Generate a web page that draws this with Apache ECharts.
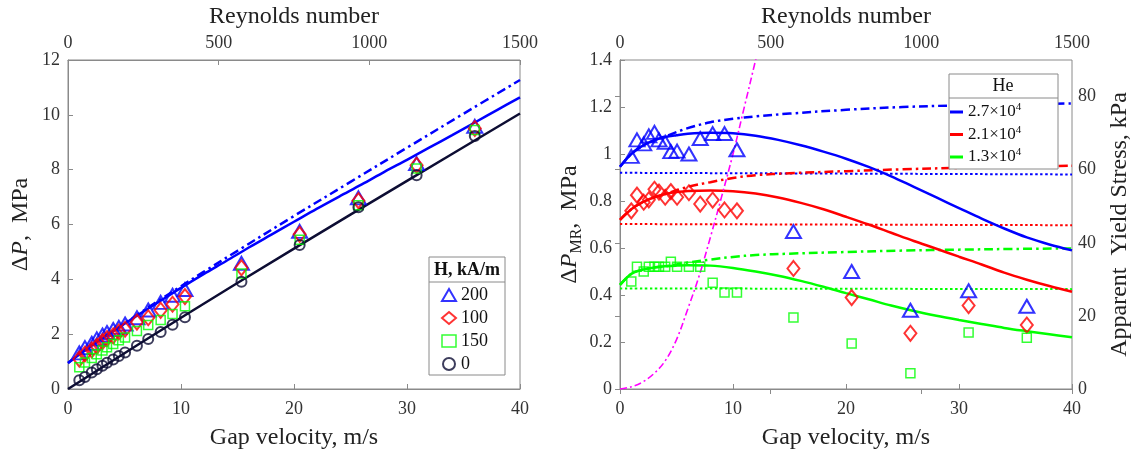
<!DOCTYPE html>
<html>
<head>
<meta charset="utf-8">
<script src="https://cdn.jsdelivr.net/npm/echarts@6.0.0/dist/echarts.min.js"></script>
<style>
  html, body { margin: 0; padding: 0; background: #fff; }
  #chart { width: 1143px; height: 455px; }
</style>
</head>
<body>
<div id="chart"></div>
<script>
// Measured gap velocities (m/s), shared by every data set
const gapVelocity = [1.0, 1.5, 2.1, 2.55, 3.05, 3.45, 4.0, 4.5, 5.05, 6.1, 7.1, 8.2, 9.25, 10.35, 15.35, 20.5, 25.7, 30.85, 36.0];

// Total pressure drop ΔP (MPa) for each field strength H (kA/m)
const dpH200 = [1.32, 1.51, 1.67, 1.83, 1.97, 2.06, 2.17, 2.25, 2.37, 2.6, 2.88, 3.16, 3.42, 3.63, 4.58, 5.75, 6.97, 8.22, 9.58];
const dpH100 = [1.09, 1.275, 1.425, 1.555, 1.73, 1.84, 1.94, 2.08, 2.18, 2.44, 2.6, 2.87, 3.09, 3.37, 4.42, 5.64, 6.87, 8.16, 9.5];
const dpH150 = [0.79, 0.97, 1.13, 1.27, 1.4, 1.52, 1.64, 1.78, 1.88, 2.12, 2.33, 2.52, 2.74, 3.02, 4.21, 5.44, 6.7, 8.04, 9.45];
const dpH0   = [0.32, 0.44, 0.6, 0.72, 0.85, 0.96, 1.08, 1.2, 1.33, 1.58, 1.82, 2.08, 2.34, 2.62, 3.91, 5.25, 6.63, 7.8, 9.23];

// Field-induced part ΔP_MR (MPa)
const mrH200 = [0.99, 1.06, 1.043, 1.077, 1.092, 1.06, 1.05, 1.01, 1.012, 1.0, 1.066, 1.087, 1.087, 1.018, 0.67, 0.5, 0.335, 0.418, 0.352];
const mrH100 = [0.758, 0.825, 0.795, 0.805, 0.85, 0.838, 0.816, 0.84, 0.816, 0.835, 0.787, 0.804, 0.762, 0.758, 0.513, 0.389, 0.237, 0.355, 0.272];
const mrH150 = [0.457, 0.52, 0.5, 0.52, 0.52, 0.52, 0.52, 0.542, 0.52, 0.52, 0.52, 0.452, 0.411, 0.411, 0.304, 0.194, 0.067, 0.24, 0.218];

// Model curves, left panel (ΔP, MPa)
const baseX = [0, 10, 20, 30, 40];
const baseY = [0, 2.6, 5.12, 7.59, 10.05];
const curveX = [0, 1, 2, 3, 4, 5, 6, 8, 10, 12, 14, 16, 18, 20, 22, 24, 26, 28, 30, 32, 34, 36, 38, 40];
const dpModelSolid = [0.95, 1.26, 1.555, 1.84, 2.11, 2.38, 2.65, 3.17, 3.69, 4.19, 4.67, 5.16, 5.63, 6.1, 6.57, 7.02, 7.46, 7.92, 8.36, 8.81, 9.26, 9.72, 10.18, 10.64];
const dashX = [0, 1, 2, 3, 4, 6, 8, 10, 12, 15, 20, 25, 30, 35, 40];
const dpModelDash = [0.95, 1.26, 1.555, 1.84, 2.115, 2.67, 3.215, 3.75, 4.27, 5.04, 6.31, 7.555, 8.8, 10.04, 11.27];

// Model curves, right panel (ΔP_MR, MPa), one per Hedström number
const mrSolidHe27 = [0.946, 1.0, 1.035, 1.058, 1.072, 1.08, 1.086, 1.09, 1.088, 1.078, 1.06, 1.037, 1.01, 0.98, 0.945, 0.905, 0.86, 0.815, 0.77, 0.725, 0.683, 0.645, 0.615, 0.59];
const mrSolidHe21 = [0.72, 0.765, 0.795, 0.815, 0.83, 0.838, 0.843, 0.845, 0.842, 0.832, 0.815, 0.792, 0.765, 0.733, 0.7, 0.665, 0.63, 0.597, 0.563, 0.53, 0.495, 0.465, 0.438, 0.414];
const mrSolidHe13 = [0.443, 0.49, 0.508, 0.517, 0.522, 0.525, 0.527, 0.525, 0.515, 0.5, 0.482, 0.46, 0.435, 0.408, 0.382, 0.355, 0.332, 0.312, 0.294, 0.277, 0.26, 0.246, 0.233, 0.22];
const mrDashHe27 = [0.946, 1.0, 1.035, 1.058, 1.075, 1.11, 1.135, 1.15, 1.16, 1.172, 1.188, 1.2, 1.207, 1.212, 1.215];
const mrDashHe21 = [0.72, 0.765, 0.795, 0.815, 0.83, 0.86, 0.88, 0.898, 0.91, 0.918, 0.927, 0.935, 0.941, 0.946, 0.95];
const mrDashHe13 = [0.443, 0.49, 0.508, 0.517, 0.522, 0.538, 0.551, 0.562, 0.57, 0.576, 0.583, 0.589, 0.593, 0.596, 0.598];
const levelX = [0, 40];
const mrLevelHe27 = [0.92, 0.913];
const mrLevelHe21 = [0.702, 0.697];
const mrLevelHe13 = [0.428, 0.425];

// Apparent yield stress (kPa) against gap velocity
const yieldX = [0, 1, 2, 3, 4, 5, 6, 7, 8, 9, 10, 11, 12, 12.6];
const yieldStress = [0, 0.6, 1.9, 4.2, 7.7, 13.5, 21.9, 30.9, 41.5, 52.7, 64.3, 77.1, 90, 98];

// Axis ticks
const velocityTicks = { min: 0, max: 40, interval: 10 };
const reynoldsTicks = { min: 0, max: 1500, interval: 500 };
const dpTicks = { min: 0, max: 12, interval: 2 };
const mrTicks = { min: 0, max: 1.4, interval: 0.2 };
const yieldTicks = { min: 0, max: 90, interval: 20 };

const fieldNames = ['200', '100', '150', '0'];
const heNames = ['2.7×10^4', '2.1×10^4', '1.3×10^4'];

const BLUE = '#0000ff', RED = '#ff0000', GREEN = '#00ff00', NAVY = '#0d0d33', MAGENTA = '#ff00ff';
const FONT = 'Liberation Serif';
const AXIS_GRAY = '#8a8a8a';
const DASH_DOT = [9, 4, 2.5, 4];
const DOTTED = [2.5, 2.5];

const zip = (xs, ys) => xs.map((x, i) => [x, ys[i]]);
const plainNumber = v => String(Math.round(v * 1000) / 1000);

function axisBase(extra, labelMargin) {
  return Object.assign({
    type: 'value',
    axisLine: { show: true, lineStyle: { color: AXIS_GRAY, width: 1 } },
    axisTick: { show: true, inside: true, length: 5, lineStyle: { color: AXIS_GRAY } },
    axisLabel: { fontFamily: FONT, fontSize: 18, color: '#333', margin: labelMargin || 8, showMinLabel: true, showMaxLabel: true, formatter: plainNumber },
    splitLine: { show: false },
    nameTextStyle: { fontFamily: FONT, fontSize: 24, color: '#222' }
  }, extra);
}

const nameRich = {
  n: { fontFamily: FONT, fontSize: 24, color: '#222', lineHeight: 30 },
  it: { fontFamily: FONT, fontSize: 24, fontStyle: 'italic', color: '#222', lineHeight: 30 },
  sub: { fontFamily: FONT, fontSize: 16, color: '#222', lineHeight: 16, verticalAlign: 'bottom' }
};

function hollow(symbol, size, color, bw) {
  return {
    type: 'scatter', symbol: symbol, symbolSize: size, z: 4,
    itemStyle: { color: 'rgba(0,0,0,0)', borderColor: color, borderWidth: bw },
    emphasis: { disabled: true }
  };
}

function curve(name, xs, ys, color, width, dash, xi, yi, z) {
  return {
    type: 'line', name: name, data: zip(xs, ys), xAxisIndex: xi, yAxisIndex: yi,
    showSymbol: false, symbol: 'none', smooth: 0.35, z: z || 2,
    lineStyle: { color: color, width: width, type: dash || 'solid' },
    itemStyle: { color: color },
    emphasis: { disabled: true }
  };
}

const series = [
  // left panel
  curve('base', baseX, baseY, NAVY, 2.5, null, 0, 0),
  curve('dpDash', dashX, dpModelDash, BLUE, 2.5, DASH_DOT, 0, 0),
  curve('dpSolid', curveX, dpModelSolid, BLUE, 2.5, null, 0, 0, 3),
  Object.assign(hollow('triangle', [15, 13], BLUE, 2), { name: fieldNames[0], xAxisIndex: 0, yAxisIndex: 0, data: zip(gapVelocity, dpH200) }),
  Object.assign(hollow('diamond', [12, 15], RED, 2), { name: fieldNames[1], xAxisIndex: 0, yAxisIndex: 0, data: zip(gapVelocity, dpH100) }),
  Object.assign(hollow('rect', [9, 9], GREEN, 1.5), { name: fieldNames[2], xAxisIndex: 0, yAxisIndex: 0, data: zip(gapVelocity, dpH150) }),
  Object.assign(hollow('circle', [10, 10], NAVY, 2), { name: fieldNames[3], xAxisIndex: 0, yAxisIndex: 0, data: zip(gapVelocity, dpH0) }),

  // right panel
  curve('lv27', levelX, mrLevelHe27, BLUE, 2, DOTTED, 2, 1),
  curve('lv21', levelX, mrLevelHe21, RED, 2, DOTTED, 2, 1),
  curve('lv13', levelX, mrLevelHe13, GREEN, 2, DOTTED, 2, 1),
  curve('dd27', dashX, mrDashHe27, BLUE, 2.5, DASH_DOT, 2, 1),
  curve('dd21', dashX, mrDashHe21, RED, 2.5, DASH_DOT, 2, 1),
  curve('dd13', dashX, mrDashHe13, GREEN, 2.5, DASH_DOT, 2, 1),
  curve(heNames[0], curveX, mrSolidHe27, BLUE, 2.5, null, 2, 1, 3),
  curve(heNames[1], curveX, mrSolidHe21, RED, 2.5, null, 2, 1, 3),
  curve(heNames[2], curveX, mrSolidHe13, GREEN, 2.5, null, 2, 1, 3),
  Object.assign(hollow('triangle', [15, 13], BLUE, 2), { name: 'mr200', xAxisIndex: 2, yAxisIndex: 1, data: zip(gapVelocity, mrH200) }),
  Object.assign(hollow('diamond', [12, 15], RED, 2), { name: 'mr100', xAxisIndex: 2, yAxisIndex: 1, data: zip(gapVelocity, mrH100) }),
  Object.assign(hollow('rect', [9, 9], GREEN, 1.5), { name: 'mr150', xAxisIndex: 2, yAxisIndex: 1, data: zip(gapVelocity, mrH150) }),
  curve('yield', yieldX, yieldStress, MAGENTA, 1.6, [7, 3, 2, 3], 2, 2, 3)
];

const option = {
  animation: false,
  backgroundColor: '#fff',
  textStyle: { fontFamily: FONT },
  grid: [
    { left: 68, right: 623, top: 60, bottom: 66, show: true, borderColor: AXIS_GRAY, borderWidth: 1, backgroundColor: 'transparent', containLabel: false, outerBoundsMode: 'none' },
    { left: 620, right: 71, top: 60, bottom: 66, show: true, borderColor: AXIS_GRAY, borderWidth: 1, backgroundColor: 'transparent', containLabel: false, outerBoundsMode: 'none' }
  ],
  xAxis: [
    axisBase(Object.assign({ gridIndex: 0, position: 'bottom', name: 'Gap velocity, m/s', nameLocation: 'middle', nameGap: 37 }, velocityTicks), 11),
    axisBase(Object.assign({ gridIndex: 0, position: 'top', name: 'Reynolds number', nameLocation: 'middle', nameGap: 28 }, reynoldsTicks)),
    axisBase(Object.assign({ gridIndex: 1, position: 'bottom', name: 'Gap velocity, m/s', nameLocation: 'middle', nameGap: 37 }, velocityTicks), 11),
    axisBase(Object.assign({ gridIndex: 1, position: 'top', name: 'Reynolds number', nameLocation: 'middle', nameGap: 28 }, reynoldsTicks))
  ],
  yAxis: [
    axisBase(Object.assign({
      gridIndex: 0, position: 'left', nameLocation: 'middle', nameGap: 32, nameRotate: 90,
      name: '{n|Δ}{it|P}{n|,  MPa}',
      nameTextStyle: { fontFamily: FONT, fontSize: 24, color: '#222', rich: nameRich }
    }, dpTicks)),
    axisBase(Object.assign({
      gridIndex: 1, position: 'left', nameLocation: 'middle', nameGap: 35, nameRotate: 90,
      name: '{n|Δ}{it|P}{sub|MR}{n|,  MPa}',
      nameTextStyle: { fontFamily: FONT, fontSize: 24, color: '#222', rich: nameRich }
    }, mrTicks)),
    axisBase(Object.assign({
      gridIndex: 1, position: 'right', nameLocation: 'middle', nameGap: 36, nameRotate: 90,
      name: 'Apparent  Yield Stress, kPa',
      axisLabel: { fontFamily: FONT, fontSize: 18, color: '#333', margin: 6, showMaxLabel: false, formatter: plainNumber }
    }, yieldTicks))
  ],
  legend: [
    {
      orient: 'vertical', left: 441, top: 286, padding: 0, itemGap: 5,
      itemWidth: 14, itemHeight: 12, z: 20,
      selectedMode: false,
      textStyle: { fontFamily: FONT, fontSize: 18, color: '#111' },
      data: [
        { name: fieldNames[0], icon: 'triangle', itemStyle: { color: 'rgba(0,0,0,0)', borderColor: BLUE, borderWidth: 2 } },
        { name: fieldNames[1], icon: 'diamond', itemStyle: { color: 'rgba(0,0,0,0)', borderColor: RED, borderWidth: 2 } },
        { name: fieldNames[2], icon: 'rect', itemStyle: { color: 'rgba(0,0,0,0)', borderColor: GREEN, borderWidth: 1.5 } },
        { name: fieldNames[3], icon: 'circle', itemStyle: { color: 'rgba(0,0,0,0)', borderColor: NAVY, borderWidth: 2 } }
      ]
    },
    {
      orient: 'vertical', left: 950, top: 102, padding: 0, itemGap: 4,
      itemWidth: 13, itemHeight: 3, icon: 'rect', z: 20,
      selectedMode: false,
      formatter: function (name) {
        const parts = name.split('^');
        return '{m|' + parts[0] + '}{e|' + parts[1] + '}';
      },
      textStyle: {
        fontFamily: FONT, fontSize: 17, color: '#111',
        rich: {
          m: { fontFamily: FONT, fontSize: 17, color: '#111', lineHeight: 20 },
          e: { fontFamily: FONT, fontSize: 11, color: '#111', lineHeight: 11, verticalAlign: 'top' }
        }
      },
      data: heNames
    }
  ],
  graphic: [
    // legend frame, left panel
    { type: 'rect', z: 10, shape: { x: 429, y: 257, width: 76, height: 118 }, style: { fill: '#fff', stroke: AXIS_GRAY, lineWidth: 1 } },
    { type: 'line', z: 11, shape: { x1: 429, y1: 282, x2: 505, y2: 282 }, style: { stroke: AXIS_GRAY, lineWidth: 1 } },
    { type: 'text', z: 11, x: 467, y: 270, style: { text: 'H, kA/m', fontFamily: FONT, fontSize: 18, fontWeight: 'bold', fill: '#111', align: 'center', verticalAlign: 'middle' } },
    // legend frame, right panel
    { type: 'rect', z: 10, shape: { x: 949, y: 74, width: 109, height: 95 }, style: { fill: '#fff', stroke: AXIS_GRAY, lineWidth: 1 } },
    { type: 'line', z: 11, shape: { x1: 949, y1: 98, x2: 1058, y2: 98 }, style: { stroke: AXIS_GRAY, lineWidth: 1 } },
    { type: 'text', z: 11, x: 1003, y: 86, style: { text: 'He', fontFamily: FONT, fontSize: 18, fill: '#111', align: 'center', verticalAlign: 'middle' } }
  ],
  series: series
};

const chart = echarts.init(document.getElementById('chart'), null, { renderer: 'canvas' });
chart.setOption(option);
</script>
</body>
</html>
